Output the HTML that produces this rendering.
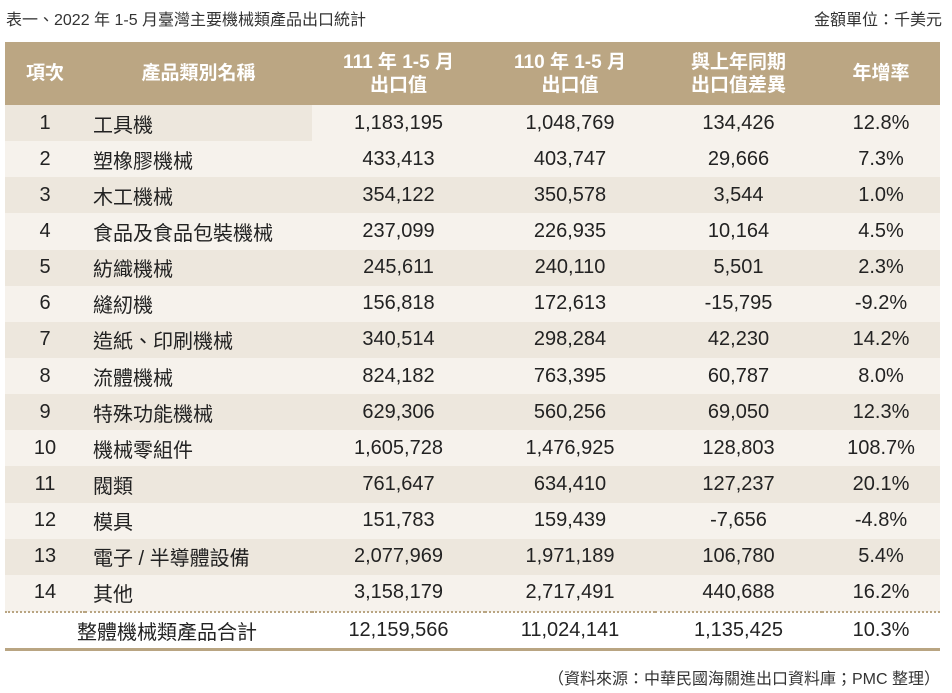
<!DOCTYPE html>
<html><head><meta charset="utf-8"><style>
body{margin:0;width:952px;height:693px;background:#fff;font-family:"Liberation Sans","Noto Sans CJK TC",sans-serif;color:#222;position:relative;overflow:hidden}
.title{position:absolute;left:6px;top:6px;font-size:16px;color:#333}
.unit{position:absolute;right:10px;top:6px;font-size:16px;color:#333}
.src{position:absolute;right:12px;top:665px;font-size:16px;color:#333}
table{position:absolute;left:5px;top:42px;width:935px;border-collapse:collapse;font-size:20px}
th{background:#bba683;color:#fff;font-weight:bold;font-size:19px;line-height:23px;height:63px;padding:0}
td{height:36.15px;padding:0;text-align:center}
tr.o td{background:#ede7dd}tr.e td{background:#f6f2ec}
tr.first td.l{background:#f6f2ec}
td.n{text-align:left;padding-left:8px}
tr.tot td{background:#fff;height:35px;border-top:2px dotted #b9a582;border-bottom:3px solid #b9a582}
</style></head><body>
<div class="title">表一、2022 年 1-5 月臺灣主要機械類產品出口統計</div>
<div class="unit">金額單位：千美元</div>
<table>
<colgroup><col style="width:80px"><col style="width:227px"><col style="width:173px"><col style="width:170px"><col style="width:167px"><col style="width:118px"></colgroup>
<thead><tr><th>項次</th><th>產品類別名稱</th><th>111 年 1-5 月<br>出口值</th><th>110 年 1-5 月<br>出口值</th><th>與上年同期<br>出口值差異</th><th>年增率</th></tr></thead>
<tbody id="tb"></tbody></table>
<div class="src">（資料來源：中華民國海關進出口資料庫；PMC 整理）</div>
<script>
const names=["工具機","塑橡膠機械","木工機械","食品及食品包裝機械","紡織機械","縫紉機","造紙、印刷機械","流體機械","特殊功能機械","機械零組件","閥類","模具","電子 / 半導體設備","其他"];
const v111=["1,183,195","433,413","354,122","237,099","245,611","156,818","340,514","824,182","629,306","1,605,728","761,647","151,783","2,077,969","3,158,179"];
const v110=["1,048,769","403,747","350,578","226,935","240,110","172,613","298,284","763,395","560,256","1,476,925","634,410","159,439","1,971,189","2,717,491"];
const diff=["134,426","29,666","3,544","10,164","5,501","-15,795","42,230","60,787","69,050","128,803","127,237","-7,656","106,780","440,688"];
const growth=["12.8%","7.3%","1.0%","4.5%","2.3%","-9.2%","14.2%","8.0%","12.3%","108.7%","20.1%","-4.8%","5.4%","16.2%"];
const tb=document.getElementById('tb');
names.forEach((n,i)=>{
 const tr=document.createElement('tr');
 
 
 tr.className=(i%2===0?'o':'e')+(i===0?' first':'');
 tr.innerHTML=`<td>${i+1}</td><td class="n">${n}</td><td class="l">${v111[i]}</td><td class="l">${v110[i]}</td><td class="l">${diff[i]}</td><td class="l">${growth[i]}</td>`;
 tb.appendChild(tr);
});
const t=document.createElement('tr');


t.className='tot';
t.innerHTML='<td colspan="2" style="text-align:right;padding-right:55px">整體機械類產品合計</td><td>12,159,566</td><td>11,024,141</td><td>1,135,425</td><td>10.3%</td>';
tb.appendChild(t);
</script>
</body></html>
